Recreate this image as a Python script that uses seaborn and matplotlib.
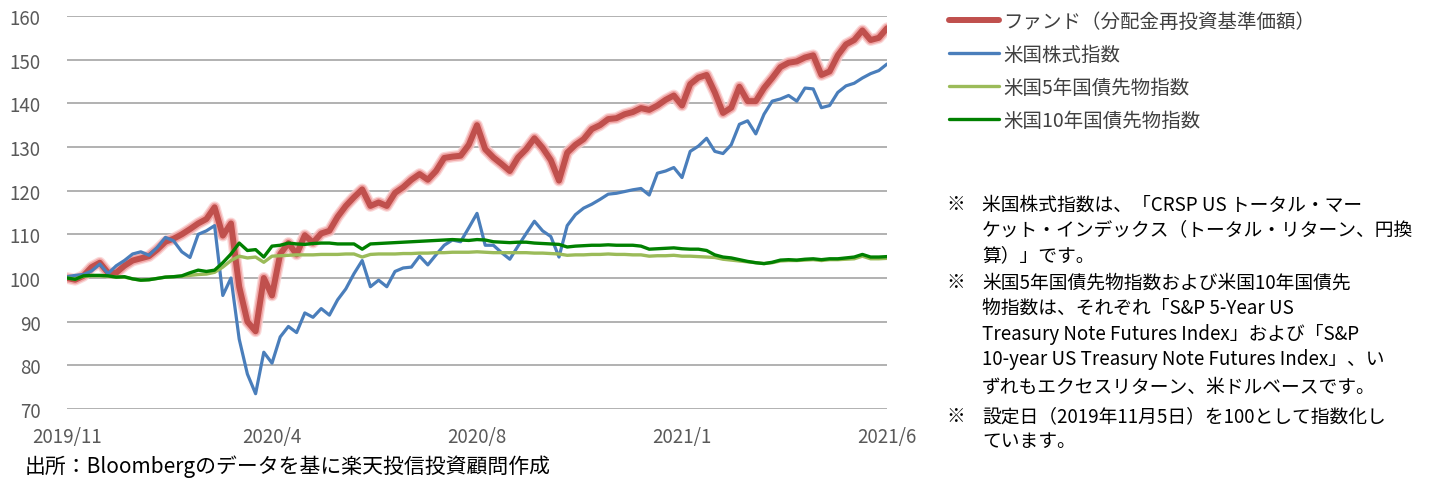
import numpy as np
import pandas as pd
import matplotlib
matplotlib.use("Agg")
import matplotlib.pyplot as plt
import matplotlib.patheffects as pe
from matplotlib.lines import Line2D
import seaborn as sns

# ---------------- data ----------------
tick_labels = ["2019/11", "2020/4", "2020/8", "2021/1", "2021/6"]
series_names = ["ファンド（分配金再投資基準価額）", "米国株式指数", "米国5年国債先物指数", "米国10年国債先物指数"]

fund = [100, 99.6, 100.5, 102.5, 103.5, 101.2, 101.2, 102.8, 104, 104.5,
        105, 106.5, 108.3, 109, 110, 111.2, 112.5, 113.5, 116.2, 109.7,
        112.5, 98, 90, 87.8, 100, 96, 105.5, 108, 105.4, 109.8,
        108.1, 110.2, 110.8, 114, 116.5, 118.5, 120.3, 116.5, 117.3, 116.5,
        119.5, 120.8, 122.5, 123.8, 122.5, 124.5, 127.5, 127.8, 128, 130.5,
        135, 129.5, 127.6, 126.1, 124.5, 127.6, 129.5, 132, 129.8, 127,
        122.3, 128.7, 130.5, 131.8, 134.1, 135, 136.4, 136.6, 137.5, 138,
        138.9, 138.5, 139.5, 140.8, 141.8, 139.5, 144.4, 145.9, 146.5, 142.5,
        137.8, 139, 143.8, 140.5, 140.5, 143.5, 145.8, 148.3, 149.3, 149.6,
        150.5, 151, 146.5, 147.3, 151, 153.5, 154.5, 156.7, 154.5, 155, 157.2]

us_equity = [100.3, 100.6, 100.8, 101.6, 103.2, 101, 102.8, 104, 105.5, 106,
             105.2, 107, 109.3, 108.5, 106, 104.7, 110, 110.8, 112, 96,
             100, 86, 78, 73.5, 83, 80.5, 86.5, 88.9, 87.5, 92,
             91, 93, 91.5, 95, 97.5, 101, 104, 98, 99.5, 98,
             101.5, 102.3, 102.5, 105, 103, 105.3, 107.5, 108.7, 108.3, 111.5,
             114.8, 107.5, 107.5, 105.8, 104.3, 107.3, 110.2, 113, 110.8, 109.5,
             104.8, 112, 114.5, 116, 116.9, 118, 119.2, 119.4, 119.8, 120.2,
             120.5, 119, 124, 124.5, 125.3, 123, 129, 130.2, 132, 129,
             128.5, 130.5, 135.2, 136, 133, 137.5, 140.5, 141, 141.8, 140.5,
             143.5, 143.3, 139, 139.5, 142.5, 144, 144.6, 145.8, 146.8, 147.5, 149]

tsy5 = [100, 99.8, 100.4, 100.5, 100.5, 100.4, 100.2, 100.2, 99.8, 99.5,
        99.6, 99.9, 100.2, 100.3, 100.4, 100.6, 100.8, 100.9, 101.3, 102.5,
        104, 105, 104.6, 104.8, 103.6, 105, 105.1, 105.2, 105.3, 105.3,
        105.3, 105.4, 105.4, 105.4, 105.5, 105.5, 104.8, 105.4, 105.5, 105.5,
        105.5, 105.6, 105.6, 105.7, 105.7, 105.8, 105.8, 105.9, 105.9, 105.9,
        106, 105.9, 105.8, 105.8, 105.8, 105.8, 105.8, 105.7, 105.7, 105.6,
        105.5, 105.2, 105.3, 105.3, 105.4, 105.4, 105.5, 105.4, 105.4, 105.3,
        105.3, 105, 105.1, 105.1, 105.2, 105, 105, 104.9, 104.8, 104.7,
        104.3, 104.1, 103.9, 103.7, 103.5, 103.3, 103.5, 103.9, 104, 104,
        104.1, 104.2, 104, 104.2, 104.2, 104.3, 104.4, 105, 104.4, 104.4, 104.5]

tsy10 = [100, 99.7, 100.5, 100.6, 100.6, 100.5, 100.2, 100.3, 99.8, 99.5,
         99.6, 99.9, 100.2, 100.3, 100.5, 101.2, 101.8, 101.5, 101.8, 103.5,
         105.5, 108, 106.3, 106.5, 104.8, 107.3, 107.5, 108, 107.8, 107.7,
         107.9, 108, 108, 107.8, 107.8, 107.8, 106.6, 107.8, 107.9, 108,
         108.1, 108.2, 108.3, 108.4, 108.5, 108.6, 108.7, 108.8, 108.7, 108.6,
         108.8, 108.7, 108.3, 108.2, 108.1, 108.2, 108.2, 108, 107.9, 107.8,
         107.7, 107.1, 107.3, 107.4, 107.5, 107.5, 107.6, 107.5, 107.5, 107.5,
         107.3, 106.6, 106.7, 106.8, 106.9, 106.7, 106.6, 106.6, 106.3, 105.3,
         104.8, 104.6, 104.2, 103.8, 103.5, 103.3, 103.6, 104.1, 104.2, 104.1,
         104.3, 104.4, 104.2, 104.4, 104.4, 104.6, 104.8, 105.4, 104.8, 104.8, 104.9]

day_index = np.arange(0, 401, 4)          # trading-day index of each observation
tick_index = [0, 100, 200, 300, 400]     # index where each date label sits

colors = ["#c0504d", "#4a7ebb", "#9bbb59", "#008000"]

notes = [
    ("※", "米国株式指数は、「CRSP US トータル・マー"),
    ("", "ケット・インデックス（トータル・リターン、円換"),
    ("", "算）」です。"),
    ("※", "米国5年国債先物指数および米国10年国債先"),
    ("", "物指数は、それぞれ「S&P 5-Year US"),
    ("", "Treasury Note Futures Index」および「S&P"),
    ("", "10-year US Treasury Note Futures Index」、い"),
    ("", "ずれもエクセスリターン、米ドルベースです。"),
    ("※", "設定日（2019年11月5日）を100として指数化し"),
    ("", "ています。"),
]
source_text = "出所：Bloombergのデータを基に楽天投信投資顧問作成"

# ---------------- figure ----------------
sns.set_theme(style="white")
plt.rcParams["font.family"] = ["Noto Sans CJK JP", "DejaVu Sans"]

W, H = 1431, 481
fig = plt.figure(figsize=(W / 100, H / 100), dpi=100)
ax = fig.add_axes([67 / W, 1 - 410 / H, (887 - 67) / W, (410 - 17) / H])

df = pd.DataFrame({"idx": day_index, "fund": fund, "eq": us_equity, "t5": tsy5, "t10": tsy10})

sns.lineplot(data=df, x="idx", y="fund", ax=ax, color=colors[0], linewidth=4.3,
             solid_capstyle="round", solid_joinstyle="round")
sns.lineplot(data=df, x="idx", y="eq", ax=ax, color=colors[1], linewidth=2.3)
sns.lineplot(data=df, x="idx", y="t5", ax=ax, color=colors[2], linewidth=2.4)
sns.lineplot(data=df, x="idx", y="t10", ax=ax, color=colors[3], linewidth=2.4)

red_line = ax.get_lines()[0]
red_line.set_path_effects([
    pe.Stroke(linewidth=8.5, foreground="#f9cfcf", alpha=0.8),
    pe.Stroke(linewidth=6.6, foreground="#f0a2a2", alpha=0.9),
    pe.Normal(),
])

ax.set_xlim(0, 400)
ax.set_ylim(70, 160)
ax.set_yticks(range(70, 161, 10))
ax.set_xticks(tick_index)
ax.set_xticklabels(tick_labels)
ax.set_xlabel("")
ax.set_ylabel("")
ax.grid(axis="y", color="#ababab", linewidth=1.3)
ax.grid(axis="x", visible=False)
ax.set_axisbelow(True)
for s in ax.spines.values():
    s.set_visible(False)
ax.tick_params(axis="both", length=0, labelsize=13.5, colors="#595959")
ax.tick_params(axis="y", pad=19)
ax.tick_params(axis="x", pad=12)

# legend
handles = [Line2D([], [], color=colors[0], linewidth=4.3),
           Line2D([], [], color=colors[1], linewidth=2.4),
           Line2D([], [], color=colors[2], linewidth=2.4),
           Line2D([], [], color=colors[3], linewidth=2.4)]
leg = fig.legend(handles, series_names, loc="upper left",
                 bbox_to_anchor=(949 / W, 1 - 12 / H), frameon=False,
                 fontsize=14, handlelength=2.55, handletextpad=0.25,
                 labelspacing=0.62, borderpad=0, borderaxespad=0)
for t in leg.get_texts():
    t.set_color("#404040")

# notes
note_y = [205, 230, 256, 283, 308, 335, 360, 387, 417, 441]
for (mark, line), y in zip(notes, note_y):
    if mark:
        fig.text(946 / W, 1 - y / H, mark, fontsize=13.5, va="center", ha="left", color="black")
    fig.text(982 / W, 1 - y / H, line, fontsize=13.5, va="center", ha="left", color="black")

fig.text(25 / W, 1 - 467 / H, source_text, fontsize=15, va="center", ha="left", color="black")

fig.savefig("out.png", dpi=100)
